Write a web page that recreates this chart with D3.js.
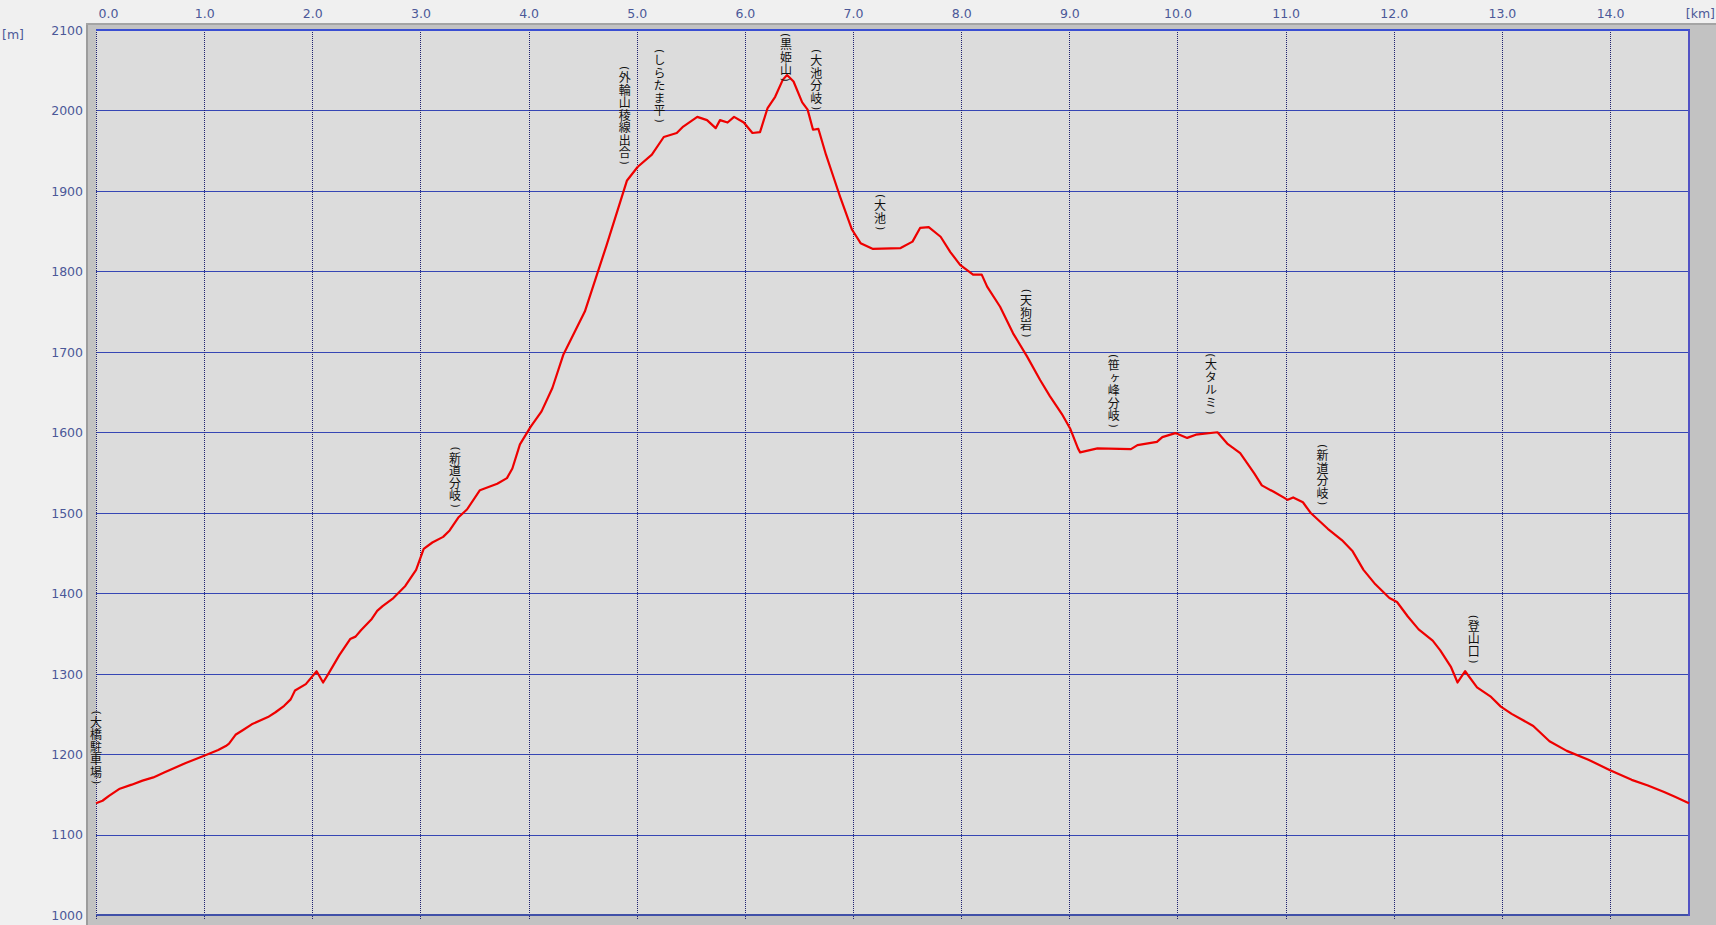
<!DOCTYPE html>
<html><head><meta charset="utf-8">
<script src="https://cdn.jsdelivr.net/npm/d3@7/dist/d3.min.js"></script>
<style>html,body{margin:0;padding:0;background:#f0f0f0;overflow:hidden}</style>
</head><body><svg id="c" width="1716" height="925"></svg>
<script>
// Distance along route (km) and elevation (m)
const distKm = [0.00,0.06,0.12,0.22,0.33,0.43,0.53,0.63,0.73,0.83,1.00,1.13,1.20,1.23,1.29,1.36,1.44,1.59,1.66,1.74,1.80,1.84,1.94,2.04,2.10,2.15,2.25,2.35,2.40,2.45,2.55,2.60,2.65,2.75,2.86,2.96,3.03,3.11,3.21,3.27,3.35,3.43,3.55,3.71,3.80,3.85,3.92,4.02,4.12,4.22,4.32,4.42,4.52,4.62,4.72,4.83,4.91,5.01,5.14,5.25,5.37,5.43,5.56,5.65,5.73,5.77,5.84,5.90,5.99,6.07,6.14,6.21,6.28,6.35,6.39,6.45,6.53,6.58,6.63,6.68,6.75,6.82,6.88,6.99,7.07,7.18,7.44,7.55,7.62,7.70,7.81,7.90,7.99,8.11,8.19,8.24,8.36,8.48,8.61,8.73,8.82,8.93,9.01,9.08,9.10,9.26,9.57,9.63,9.81,9.86,9.98,10.09,10.17,10.37,10.46,10.58,10.71,10.78,10.89,11.02,11.07,11.16,11.23,11.39,11.52,11.62,11.72,11.83,11.96,12.03,12.13,12.23,12.36,12.43,12.53,12.59,12.66,12.77,12.90,12.99,13.09,13.29,13.44,13.60,13.80,14.00,14.20,14.35,14.50,14.60,14.73];
const elevM = [1139,1142,1148,1157,1162,1167,1171,1177,1183,1189,1198,1205,1210,1213,1224,1230,1237,1246,1252,1260,1268,1279,1287,1303,1289,1300,1323,1343,1346,1354,1368,1378,1384,1394,1409,1429,1455,1463,1470,1478,1494,1504,1528,1536,1543,1555,1585,1607,1626,1655,1696,1723,1750,1791,1832,1879,1913,1930,1945,1967,1972,1980,1992,1988,1978,1988,1985,1992,1985,1972,1973,2003,2017,2038,2044,2036,2010,2001,1976,1977,1945,1917,1893,1852,1835,1828,1829,1837,1854,1855,1843,1824,1808,1796,1796,1781,1756,1723,1694,1665,1645,1623,1604,1580,1575,1580,1579,1584,1588,1594,1599,1593,1597,1600,1586,1574,1549,1534,1526,1516,1519,1513,1500,1480,1466,1452,1429,1411,1394,1389,1371,1355,1341,1329,1308,1289,1303,1283,1271,1259,1250,1235,1216,1204,1193,1180,1168,1161,1153,1147,1139];

const xTicks = [0,1,2,3,4,5,6,7,8,9,10,11,12,13,14];
const yTicks = [1000,1100,1200,1300,1400,1500,1600,1700,1800,1900,2000,2100];
const xUnit = "[km]";
const yUnit = "[m]";

// Waypoint annotations: name, km, elevation at which the label begins (top)
const wpNames = ["大橋駐車場","新道分岐","外輪山稜線出合","しらたま平","黒姫山","大池分岐","大池","天狗岩","笹ヶ峰分岐","大タルミ","新道分岐","登山口"];
const wpKm = [0.0,3.32,4.89,5.21,6.38,6.66,7.25,8.60,9.41,10.31,11.34,12.74];
const wpTopM = [1256,1584,2057,2078,2098,2078,1898,1780,1699,1700,1587,1375];

const svg = d3.select("#c");
const X0 = 96, X1 = 1689, Y0 = 915, Y1 = 30;
const x = d3.scaleLinear().domain([0,14.73]).range([X0,X1]);
const y = d3.scaleLinear().domain([1000,2100]).range([Y0,Y1]);
const labelColor = "#4b5898";
const font = "'DejaVu Sans', Verdana, sans-serif";

// frame
svg.append("rect").attr("x",86).attr("y",23).attr("width",1716-86).attr("height",925-23).attr("fill","#c2c2c2");
svg.append("rect").attr("x",86).attr("y",23).attr("width",2).attr("height",925-23).attr("fill","#9c9c9c");
svg.append("rect").attr("x",86).attr("y",23).attr("width",1716-86).attr("height",2).attr("fill","#a4a4a4");
svg.append("rect").attr("x",X0).attr("y",Y1).attr("width",X1-X0).attr("height",Y0-Y1).attr("fill","#dcdcdc");

// horizontal grid
svg.append("g").selectAll("line").data(yTicks.filter(d=>d>1000 && d<2100)).join("line")
  .attr("x1",X0).attr("x2",X1).attr("y1",d=>Math.round(y(d))+0.5).attr("y2",d=>Math.round(y(d))+0.5)
  .attr("stroke","#3646b4").attr("stroke-width",1);
// vertical dotted grid
svg.append("g").selectAll("line").data(xTicks).join("line")
  .attr("x1",d=>Math.round(x(d))+0.5).attr("x2",d=>Math.round(x(d))+0.5).attr("y1",Y1).attr("y2",Y0+5)
  .attr("stroke","#1e2070").attr("stroke-width",1).attr("stroke-dasharray","1,1");
// borders
svg.append("line").attr("x1",X0).attr("x2",X1+1).attr("y1",Y1).attr("y2",Y1).attr("stroke","#3a4ed2").attr("stroke-width",2);
svg.append("line").attr("x1",X0).attr("x2",X1+1).attr("y1",Y0).attr("y2",Y0).attr("stroke","#4050a8").attr("stroke-width",2);
svg.append("line").attr("x1",X1).attr("x2",X1).attr("y1",Y1).attr("y2",Y0+1).attr("stroke","#5252c4").attr("stroke-width",2);

// axes labels
const xa = svg.append("g").attr("transform",`translate(0,14)`).call(d3.axisTop(x).tickValues(xTicks).tickFormat(d3.format(".1f")).tickSize(0).tickPadding(0));
xa.select(".domain").remove();
xa.selectAll("text").attr("fill",labelColor).attr("font-family",font).attr("font-size","12.5px")
  .attr("dy","0.35em").attr("y",0)
  .attr("text-anchor",d=>d===0?"start":"middle").attr("dx",d=>d===0?"2":"0");
const ya = svg.append("g").attr("transform",`translate(83,0)`).call(d3.axisLeft(y).tickValues(yTicks).tickFormat(d3.format("d")).tickSize(0).tickPadding(0));
ya.select(".domain").remove();
ya.selectAll("text").attr("fill",labelColor).attr("font-family",font).attr("font-size","12.5px").attr("dy","0.35em");
svg.append("text").attr("x",1715).attr("y",14).attr("dy","0.35em").attr("text-anchor","end").attr("fill",labelColor).attr("font-family",font).attr("font-size","12.5px").text(xUnit);
svg.append("text").attr("x",2).attr("y",35).attr("dy","0.35em").attr("fill",labelColor).attr("font-family",font).attr("font-size","12.5px").text(yUnit);

// profile line
const pts = distKm.map((d,i)=>[d,elevM[i]]);
svg.append("path").datum(pts).attr("fill","none").attr("stroke","#ee0000").attr("stroke-width",2.2).attr("stroke-linejoin","round")
  .attr("d",d3.line().x(d=>x(d[0])).y(d=>y(d[1])));

// waypoint labels: rotated parentheses + vertical body text spaced to a fixed pitch
const PAREN = 7, PITCH = 12.5;
const lg = svg.append("g");
wpNames.forEach((name,i)=>{
  const cx = x(wpKm[i]);
  const top = y(wpTopM[i]);
  const n = Array.from(name).length;
  const g = lg.append("g");
  const paren = (t,cy)=>g.append("text").attr("transform",`translate(${cx},${cy}) rotate(90)`)
    .attr("text-anchor","middle").attr("dominant-baseline","central")
    .attr("font-family","'DejaVu Sans', sans-serif").attr("font-size","11px").attr("fill","#111").text(t);
  paren("(", top+PAREN/2);
  const body = g.append("text").attr("x",cx).attr("y",top+PAREN)
    .style("writing-mode","vertical-rl")
    .attr("font-family","'Noto Sans CJK JP', sans-serif").attr("font-size","12px").attr("fill","#111")
    .text(name);
  // measure natural advance and spread glyphs to the target pitch
  let len = 0;
  try { len = body.node().getComputedTextLength(); } catch(e) { len = 0; }
  if (len > 0) {
    const ls = (n*PITCH - len)/n;
    body.attr("letter-spacing", ls.toFixed(2));
    body.attr("y", top+PAREN+ls/2 > top+PAREN ? top+PAREN : top+PAREN);
  }
  paren(")", top+PAREN+PITCH*n+PAREN/2);
});
</script></body></html>
